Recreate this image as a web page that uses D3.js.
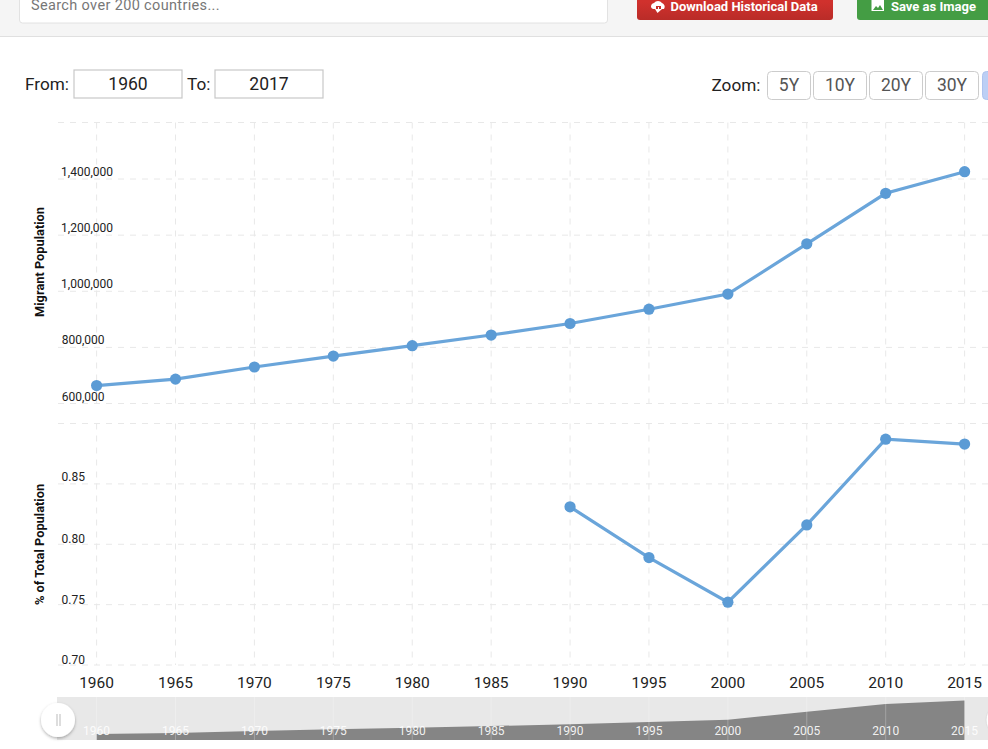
<!DOCTYPE html>
<html><head><meta charset="utf-8">
<script src="https://cdn.jsdelivr.net/npm/d3@7"></script>
<style>html,body{margin:0;padding:0;background:#fff;overflow:hidden}svg{display:block}text{font-family:Roboto,sans-serif}</style>
</head><body><svg id="c" width="988" height="749"></svg>
<script>
const years=[1960,1965,1970,1975,1980,1985,1990,1995,2000,2005,2010,2015];
const migrants=[664000,687000,730000,769000,806000,844000,885000,936000,990000,1169000,1349000,1426000];
const percent=[null,null,null,null,null,null,0.831,0.789,0.752,0.816,0.887,0.883];
const migrantTicks=[600000,800000,1000000,1200000,1400000];
const percentTicks=[0.70,0.75,0.80,0.85];
const zoomLabels=["5Y","10Y","20Y","30Y"];
const svg=d3.select("#c");
const x=d3.scaleLinear().domain([1960,2015]).range([96.6,964.6]);
const y1=d3.scaleLinear().domain([600000,1400000]).range([403.5,179]);
const y2=d3.scaleLinear().domain([0.70,0.90]).range([665,423.5]);
const yN=d3.scaleLinear().domain([526000,1426000]).range([740,700.5]);
const blue="#5b9bd5",lineC="#6aa5da",grid="#e8e8e8";

// header
svg.append("rect").attr("width",988).attr("height",36).attr("fill","#f5f5f5");
svg.append("line").attr("x1",0).attr("x2",988).attr("y1",36.5).attr("y2",36.5).attr("stroke","#e0e0e0");
svg.append("rect").attr("x",19.5).attr("y",-10).attr("width",588).attr("height",33).attr("rx",3).attr("fill","#fff").attr("stroke","#e2e2e2");
svg.append("text").attr("x",31).attr("y",10).attr("font-size",14.5).attr("fill","#777").attr("letter-spacing",.35).text("Search over 200 countries...");
const grad=svg.append("defs").append("linearGradient").attr("id","red").attr("x1",0).attr("x2",0).attr("y1",0).attr("y2",1);
grad.append("stop").attr("offset","40%").attr("stop-color","#d0312d");
grad.append("stop").attr("offset","100%").attr("stop-color","#b92c28");
svg.append("rect").attr("x",637).attr("y",-10).attr("width",196).attr("height",30).attr("rx",3).attr("fill","url(#red)");
svg.append("text").attr("x",670.5).attr("y",11).attr("font-size",13).attr("font-weight",700).attr("fill","#fff").text("Download Historical Data");
svg.append("path").attr("d","M651 7a4 4 0 0 1 3-4a5 5 0 0 1 8 0a4 4 0 0 1 2 6h-3v-3h-5v3h-3a3 3 0 0 1-2-2zM655 9h3v-2h1v2h3l-4.5 4z").attr("fill","#fff");
svg.append("rect").attr("x",857).attr("y",-10).attr("width",140).attr("height",30).attr("rx",3).attr("fill","#449d44");
svg.append("text").attr("x",891).attr("y",11).attr("font-size",13).attr("font-weight",700).attr("fill","#fff").text("Save as Image");
svg.append("rect").attr("x",871.5).attr("y",0).attr("width",12.5).attr("height",11).attr("fill","#fff");
svg.append("path").attr("d","M873 10l3-4 2 2 2-3 3 5z").attr("fill","#449d44");

// range controls
const t=(a,b,s,fs,anc,col)=>svg.append("text").attr("x",a).attr("y",b).attr("font-size",fs).attr("text-anchor",anc||"start").attr("fill",col||"#222").text(s);
t(25,90,"From:",17.2);
svg.append("rect").attr("x",74).attr("y",70).attr("width",108).attr("height",28).attr("fill","#fff").attr("stroke","#c8c8c8").attr("stroke-width",1.2);
t(128,90,"1960",17.5,"middle");
t(187,90,"To:",17.2);
svg.append("rect").attr("x",215).attr("y",70).attr("width",108).attr("height",28).attr("fill","#fff").attr("stroke","#c8c8c8").attr("stroke-width",1.2);
t(269,90,"2017",17.5,"middle");
t(711.5,91,"Zoom:",17.2);
const zx=[767.5,813.5,869.5,925.5],zw=[43,53,53,53];
zoomLabels.forEach((l,i)=>{
  svg.append("rect").attr("x",zx[i]).attr("y",71.5).attr("width",zw[i]).attr("height",28).attr("rx",4).attr("fill","#fff").attr("stroke","#ccc");
  t(zx[i]+zw[i]/2,91,l,17.5,"middle","#555");
});
svg.append("rect").attr("x",982.5).attr("y",71.5).attr("width",30).attr("height",28).attr("rx",4).attr("fill","#bccff5").attr("stroke","#aec3ee");

// grids
const dash="6 6";
function panel(y,ticks,top,bottom){
  const g=svg.append("g").attr("stroke",grid).attr("stroke-dasharray",dash).attr("fill","none");
  g.selectAll(".h").data(ticks).join("line").attr("x1",58).attr("x2",988).attr("y1",d=>y(d)).attr("y2",d=>y(d));
  g.append("line").attr("x1",58).attr("x2",988).attr("y1",top).attr("y2",top);
  g.selectAll(".v").data(years).join("line").attr("x1",d=>x(d)).attr("x2",d=>x(d)).attr("y1",top).attr("y2",bottom);
}
panel(y1,migrantTicks,122.5,403.5);
panel(y2,percentTicks,423.5,665);

// y tick labels
const fmt=d3.format(",");
svg.append("g").selectAll("text").data(migrantTicks).join("text")
 .attr("x",d=>d>=1000000?113:104.5).attr("y",d=>y1(d)-3).attr("text-anchor","end").attr("font-size",12).attr("fill","#222").text(fmt);
svg.append("g").selectAll("text").data(percentTicks).join("text")
 .attr("x",85).attr("y",d=>y2(d)-1-(d>0.84?2:0)).attr("text-anchor","end").attr("font-size",12).attr("fill","#222").text(d3.format(".2f"));
svg.append("text").attr("transform","translate(44,262) rotate(-90)").attr("text-anchor","middle").attr("font-size",12.8).attr("font-weight",700).attr("fill","#111").text("Migrant Population");
svg.append("text").attr("transform","translate(44,544.5) rotate(-90)").attr("text-anchor","middle").attr("font-size",12.8).attr("font-weight",700).attr("fill","#111").text("% of Total Population");

// series
function series(vals,y){
  const pts=years.map((yr,i)=>({yr,v:vals[i]})).filter(d=>d.v!=null);
  svg.append("path").datum(pts).attr("fill","none").attr("stroke",lineC).attr("stroke-width",3.2)
    .attr("d",d3.line().x(d=>x(d.yr)).y(d=>y(d.v)));
  svg.append("g").selectAll("circle").data(pts).join("circle").attr("cx",d=>x(d.yr)).attr("cy",d=>y(d.v)).attr("r",5.6).attr("fill",blue);
}
series(migrants,y1);
series(percent,y2);

// x axis labels
svg.append("g").selectAll("text").data(years).join("text").attr("x",d=>x(d)).attr("y",688).attr("text-anchor","middle").attr("font-size",15.5).attr("fill","#222").text(d=>d);

// navigator
svg.append("rect").attr("x",57).attr("y",697).attr("width",931).attr("height",43).attr("fill","#e8e8e8");
svg.append("path").datum(years.map((yr,i)=>({yr,v:migrants[i]}))).attr("fill","#858585")
  .attr("d",d3.area().x(d=>x(d.yr)).y0(740).y1(d=>yN(d.v)));
svg.append("g").attr("stroke","#fff").attr("stroke-opacity",.25).selectAll("line").data(years).join("line").attr("x1",d=>x(d)).attr("x2",d=>x(d)).attr("y1",697).attr("y2",740);
svg.append("g").selectAll("text").data(years).join("text").attr("x",d=>x(d)).attr("y",735).attr("text-anchor","middle").attr("font-size",12).attr("fill","#fff").attr("fill-opacity",.9).text(d=>d);

const defs=svg.append("defs");
const f=defs.append("filter").attr("id","s").attr("x","-40%").attr("y","-40%").attr("width","180%").attr("height","180%");
f.append("feDropShadow").attr("dx",0).attr("dy",1.5).attr("stdDeviation",1.5).attr("flood-opacity",.3);
svg.append("circle").attr("cx",58).attr("cy",720).attr("r",17).attr("fill","#fff").attr("filter","url(#s)");
svg.append("path").attr("d","M57 714v12M60 714v12").attr("stroke","#bbb").attr("stroke-width",1);
svg.append("circle").attr("cx",1003).attr("cy",720).attr("r",17).attr("fill","#fff").attr("stroke","#ddd");
</script></body></html>
